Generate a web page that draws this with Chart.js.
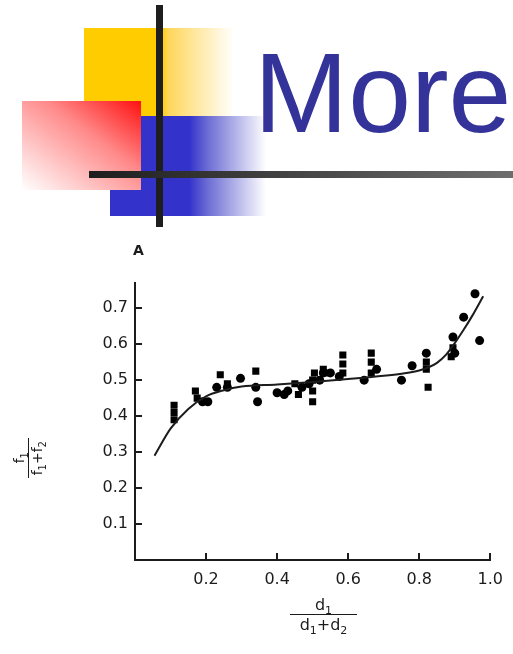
<!DOCTYPE html>
<html>
<head>
<meta charset="utf-8">
<script src="https://cdn.jsdelivr.net/npm/chart.js@4.4.1/dist/chart.umd.min.js"></script>
<style>
  html, body { margin: 0; padding: 0; background: #fff; }
  body { width: 513px; height: 654px; position: relative; overflow: hidden; font-family: "DejaVu Sans", sans-serif; color: #1c1c1c; }
  .abs { position: absolute; }

  /* ---------- header decoration ---------- */
  #yellow { left: 84px; top: 28px; width: 150px; height: 88px;
    background: linear-gradient(to right, #ffcc00 0%, #ffcc00 52%, #ffd65a 56%, rgba(255,255,255,0) 100%); }
  #blue { left: 110px; top: 116px; width: 156px; height: 100px;
    background: linear-gradient(to right, #3333cc 0%, #3333cc 51%, #6a6ad4 62%, rgba(255,255,255,0) 100%); }
  #red { left: 22px; top: 101px; width: 119px; height: 89px;
    background: linear-gradient(to bottom left, #ff1010 0%, #ff8a8a 40%, #ffffff 100%); }
  #vline { left: 156px; top: 5px; width: 7px; height: 222px; background: #1e1e1e; }
  #hline { left: 89px; top: 171px; width: 424px; height: 7px;
    background: linear-gradient(to right, #1e1e1e, #6e6e6e); }
  #title { left: 254px; top: 37px; font-family: "Liberation Sans", Arial, sans-serif;
    font-size: 113px; line-height: 113px; color: #333399; white-space: nowrap; }

  /* ---------- chart ---------- */
  #wrap { left: 0; top: 230px; width: 513px; height: 424px; }
  #panel { left: 133px; top: 242px; font-size: 14px; font-weight: bold; }
  .frac { display: flex; flex-direction: column; align-items: center; font-size: 16px; line-height: 17px; }
  .frac .bar { align-self: stretch; border-top: 1.5px solid #1c1c1c; margin: 1px 0 1px; }
  .frac sub { font-size: 11px; vertical-align: -4px; line-height: 0; }
  #xTitle { left: 290px; top: 596px; width: 67px; }

  /* y title reads bottom to top */
  #yTitle { left: 12px; top: 438px; height: 40px; writing-mode: sideways-lr;
    font-size: 14px; line-height: 15px; white-space: nowrap; text-align: center; }
  #yTitle .bar { inline-size: 40px; block-size: 0; border-block-start: 1.5px solid #1c1c1c; margin-block: 1px; }
  #yTitle sub { font-size: 10px; vertical-align: -4px; line-height: 0; }
</style>
</head>
<body>
<div class="abs" id="yellow"></div>
<div class="abs" id="blue"></div>
<div class="abs" id="red"></div>
<div class="abs" id="vline"></div>
<div class="abs" id="hline"></div>
<div class="abs" id="title">More</div>

<div class="abs" id="wrap"><canvas id="chart" width="513" height="424"></canvas></div>
<div class="abs" id="panel">A</div>
<div class="abs" id="xTitle"><div class="frac">
  <span>d<sub>1</sub></span><span class="bar"></span><span>d<sub>1</sub>+d<sub>2</sub></span>
</div></div>
<div class="abs" id="yTitle">
  <div>f<sub>1</sub></div><div class="bar"></div><div>f<sub>1</sub>+f<sub>2</sub></div>
</div>

<script>
// measured points, square markers
const squareX = [0.11, 0.11, 0.11, 0.17, 0.175, 0.24, 0.26, 0.34, 0.45, 0.46, 0.50, 0.50, 0.50, 0.505, 0.53, 0.54,
  0.585, 0.585, 0.585, 0.665, 0.665, 0.665, 0.82, 0.82, 0.825, 0.89, 0.895];
const squareY = [0.39, 0.41, 0.43, 0.47, 0.45, 0.515, 0.49, 0.525, 0.49, 0.46, 0.44, 0.47, 0.50, 0.52, 0.53, 0.52,
  0.52, 0.545, 0.57, 0.52, 0.55, 0.575, 0.53, 0.55, 0.48, 0.565, 0.59];

// measured points, round markers
const circleX = [0.19, 0.205, 0.23, 0.26, 0.297, 0.34, 0.345, 0.40, 0.42, 0.43, 0.47, 0.49, 0.52, 0.53, 0.55,
  0.575, 0.645, 0.68, 0.75, 0.78, 0.82, 0.90, 0.895, 0.925, 0.957, 0.97];
const circleY = [0.44, 0.44, 0.48, 0.48, 0.505, 0.48, 0.44, 0.465, 0.46, 0.47, 0.48, 0.49, 0.50, 0.52, 0.52,
  0.51, 0.50, 0.53, 0.50, 0.54, 0.575, 0.575, 0.62, 0.675, 0.74, 0.61];

// fitted curve
const fitX = [0.055, 0.10, 0.15, 0.20, 0.25, 0.30, 0.40, 0.50, 0.60, 0.70, 0.75, 0.80, 0.825, 0.85, 0.875, 0.90, 0.925, 0.95, 0.98];
const fitY = [0.29, 0.365, 0.42, 0.455, 0.472, 0.482, 0.488, 0.495, 0.503, 0.512, 0.518, 0.527, 0.535, 0.548, 0.57, 0.603, 0.64, 0.68, 0.733];

const xTicks = [0.2, 0.4, 0.6, 0.8, 1.0];
const yTicks = [0.1, 0.2, 0.3, 0.4, 0.5, 0.6, 0.7];

const ink = "#1c1c1c";
const tickFont = { family: "DejaVu Sans", size: 16 };

const pts = (xs, ys) => xs.map((x, i) => ({ x, y: ys[i] }));

/* short tick marks pointing into the plot */
const innerTicks = {
  id: "innerTicks",
  afterDraw(chart) {
    const { ctx, chartArea: a, scales: { x, y } } = chart;
    ctx.save();
    ctx.strokeStyle = ink;
    ctx.lineWidth = 2;
    ctx.beginPath();
    xTicks.forEach(v => {
      const px = Math.round(x.getPixelForValue(v));
      ctx.moveTo(px, a.bottom);
      ctx.lineTo(px, a.bottom - 7);
    });
    yTicks.forEach(v => {
      const py = Math.round(y.getPixelForValue(v));
      ctx.moveTo(a.left, py);
      ctx.lineTo(a.left + 7, py);
    });
    ctx.stroke();
    ctx.restore();
  }
};

new Chart(document.getElementById("chart"), {
  type: "scatter",
  data: {
    datasets: [
      {
        label: "fit",
        data: pts(fitX, fitY),
        showLine: true,
        borderColor: ink,
        borderWidth: 2,
        pointRadius: 0,
        tension: 0.4,
        cubicInterpolationMode: "monotone"
      },
      {
        label: "squares",
        data: pts(squareX, squareY),
        pointStyle: "rect",
        pointRadius: 5,
        backgroundColor: "#000",
        borderWidth: 0
      },
      {
        label: "circles",
        data: pts(circleX, circleY),
        pointStyle: "circle",
        pointRadius: 4.5,
        backgroundColor: "#000",
        borderWidth: 0
      }
    ]
  },
  options: {
    responsive: false,
    animation: false,
    layout: { padding: { left: 0, right: 21, top: 53, bottom: 0 } },
    plugins: { legend: { display: false }, tooltip: { enabled: false } },
    scales: {
      x: {
        type: "linear",
        min: 0,
        max: 1,
        afterBuildTicks: s => { s.ticks = xTicks.map(value => ({ value })); },
        afterFit: s => { s.height = 94; },
        grid: { display: false, drawTicks: false },
        border: { display: true, color: ink, width: 2 },
        ticks: { padding: 10, color: ink, font: tickFont, callback: v => v.toFixed(1) }
      },
      y: {
        type: "linear",
        min: 0,
        max: 0.77,
        afterBuildTicks: s => { s.ticks = yTicks.map(value => ({ value })); },
        afterFit: s => { s.width = 135; },
        grid: { display: false, drawTicks: false },
        border: { display: true, color: ink, width: 2 },
        ticks: { padding: 7, color: ink, font: tickFont, callback: v => v.toFixed(1) }
      }
    }
  },
  plugins: [innerTicks]
});
</script>
</body>
</html>
